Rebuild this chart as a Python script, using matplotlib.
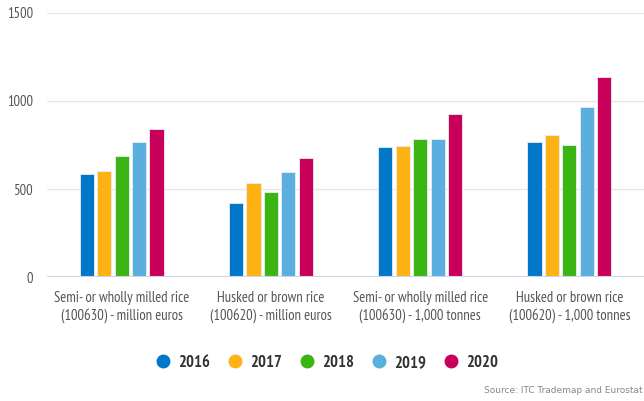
import numpy as np
import matplotlib.pyplot as plt
from matplotlib.lines import Line2D

categories = [
    "Semi- or wholly milled rice\n(100630) - million euros",
    "Husked or brown rice\n(100620) - million euros",
    "Semi- or wholly milled rice\n(100630) - 1,000 tonnes",
    "Husked or brown rice\n(100620) - 1,000 tonnes",
]
years = ["2016", "2017", "2018", "2019", "2020"]
v2016 = [587, 422, 737, 767]
v2017 = [602, 534, 744, 805]
v2018 = [687, 481, 782, 752]
v2019 = [767, 595, 782, 964]
v2020 = [842, 676, 928, 1138]
series = [v2016, v2017, v2018, v2019, v2020]
colors = ["#0077c8", "#ffb213", "#3ab512", "#5aafde", "#c8005a"]

plt.rcParams["font.family"] = ["PT Sans Narrow", "DejaVu Sans"]

fig = plt.figure(figsize=(6.44, 4.01), dpi=100)
ax = fig.add_axes([0.073, 0.309, 0.927, 0.659])

x = np.arange(len(categories))
pitch = 0.117
width = 0.095
for i, (vals, c) in enumerate(zip(series, colors)):
    ax.bar(x + (i - 2) * pitch, vals, width, color=c, edgecolor="#e8eef8",
           linewidth=0.6, zorder=3)

ax.set_xlim(-0.5, 3.5)
ax.set_ylim(0, 1500)
ax.set_yticks([0, 500, 1000, 1500])
ax.yaxis.grid(True, color="#e6e6e6", linewidth=1, zorder=0)
ax.axhline(0, color="#ccd6eb", linewidth=1.5, zorder=4)
for s in ax.spines.values():
    s.set_visible(False)
ax.tick_params(axis="y", length=0, pad=10, labelsize=10.5, labelcolor="#555555")
ax.set_xticks(x)
ax.set_xticklabels(categories, fontsize=10.5, color="#555555", linespacing=1.25)
ax.tick_params(axis="x", length=0, pad=10)

handles = [Line2D([], [], marker="o", linestyle="", markersize=9,
                  markerfacecolor=c, markeredgecolor=c) for c in colors]
fig.legend(handles, years, loc="center", bbox_to_anchor=(0.508, 0.095), ncol=5,
           frameon=False, handlelength=0.8, handletextpad=0.5, columnspacing=1.1,
           labelcolor="#333333", prop={"family": "PT Sans Narrow", "weight": "bold", "size": 12})

fig.text(0.998, 0.027, "Source: ITC Trademap and Eurostat", ha="right",
         va="center", fontsize=6.5, color="#888888", family="DejaVu Sans")

plt.savefig("out.png", dpi=100)
